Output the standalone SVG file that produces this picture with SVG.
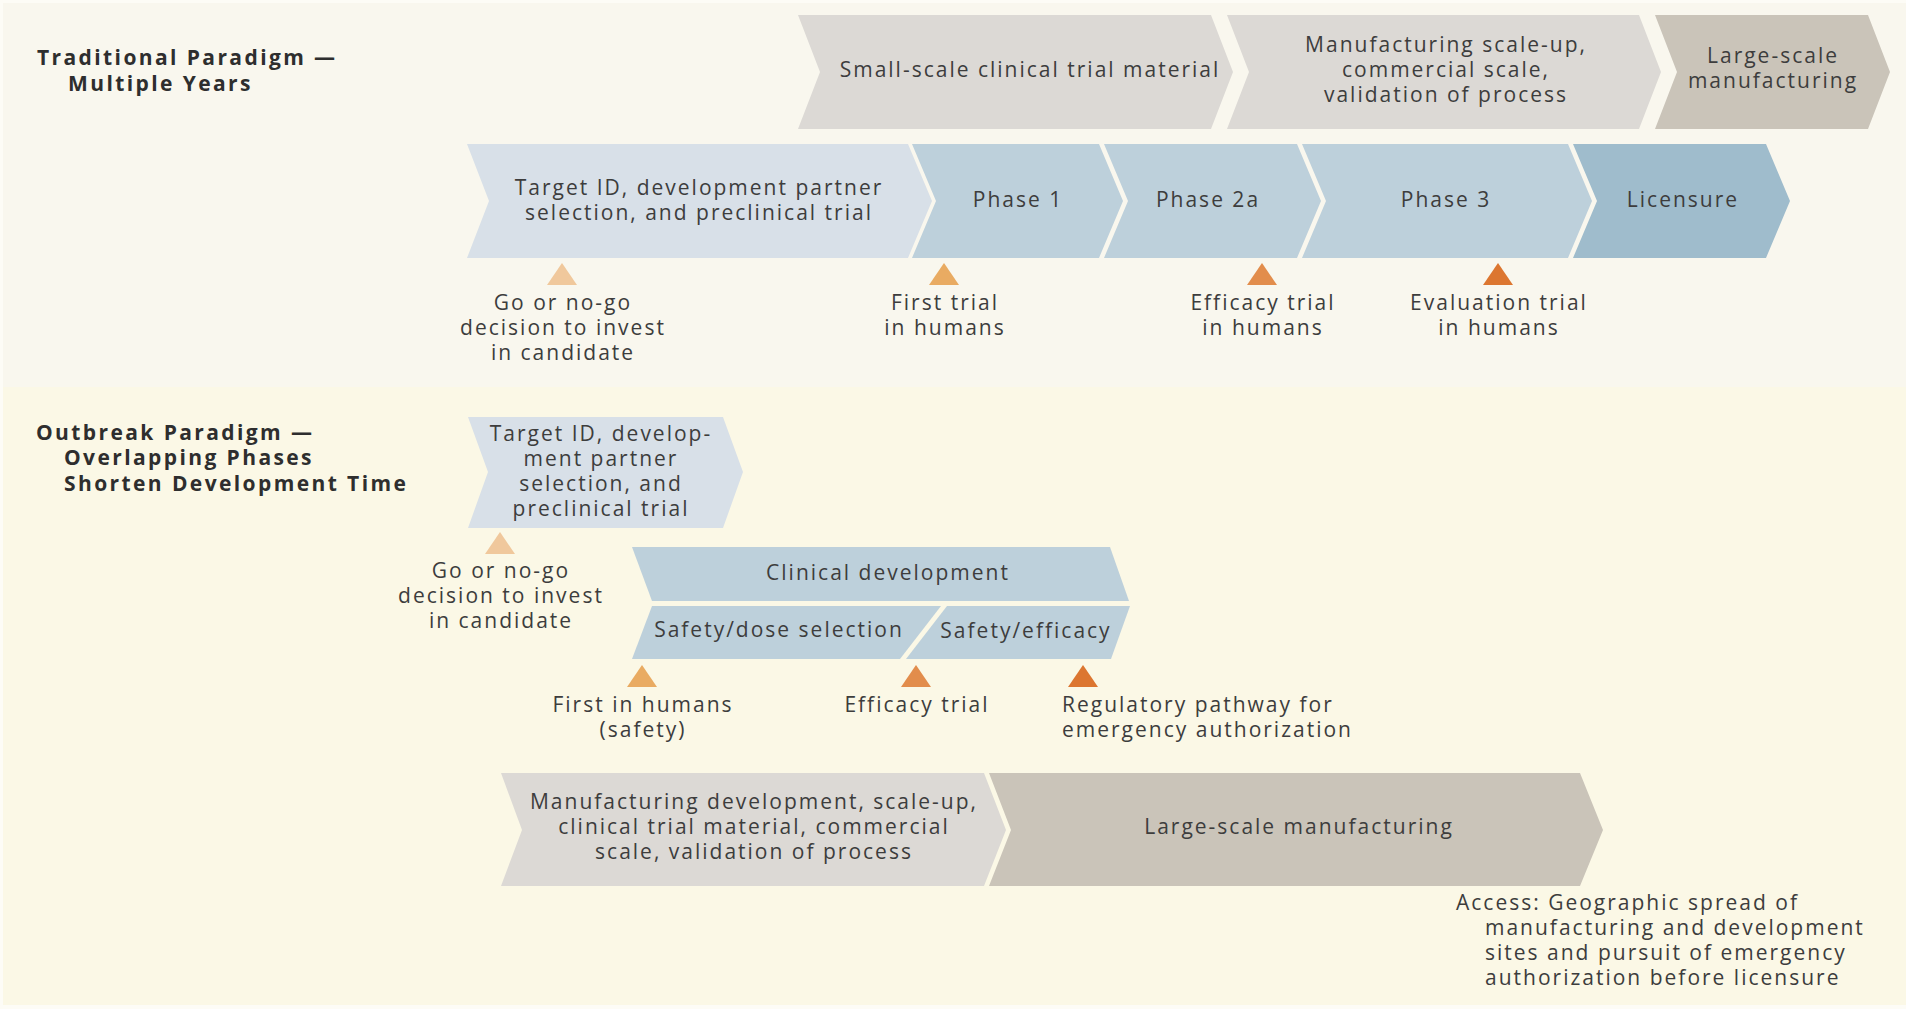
<svg xmlns="http://www.w3.org/2000/svg" width="1906" height="1009" viewBox="0 0 1906 1009">
  <style>
    text { font-family: "Open Sans", "Noto Sans", "DejaVu Sans", sans-serif; fill: #3d3d3d; font-size: 21px; letter-spacing: 2px; }
    .c { text-anchor: middle; }
    .title { font-weight: 700; font-size: 21px; letter-spacing: 2.4px; fill: #2e2e2e; }
    .gray { fill: #dcd9d5; }
    .tan { fill: #cac4b9; }
    .pale { fill: #d8e0e8; }
    .blue { fill: #bdd0db; }
    .dark { fill: #9fbccc; }
    .t1 { fill: #f0c89c; }
    .t2 { fill: #e9ab62; }
    .t3 { fill: #e28d4c; }
    .t4 { fill: #dc7630; }
  </style>

  <!-- backgrounds of the two panels -->
  <rect x="0" y="0" width="1906" height="1009" fill="#fdfcf6"/>
  <rect x="3" y="3" width="1903" height="384" fill="#f9f7ee"/>
  <rect x="3" y="387" width="1903" height="618" fill="#fbf8e6"/>

  <!-- ===== Traditional paradigm ===== -->
  <g id="title-traditional">
    <text class="title" x="37" y="65">Traditional Paradigm —</text>
    <text class="title" x="68" y="91">Multiple Years</text>
  </g>

  <!-- manufacturing row -->
  <g id="small-scale-material">
    <polygon class="gray" points="798,15 1211,15 1233,72 1211,129 798,129 820,72"/>
    <text class="c" x="1030" y="77">Small-scale clinical trial material</text>
  </g>
  <g id="manufacturing-scale-up">
    <polygon class="gray" points="1227,15 1639,15 1661,72 1639,129 1227,129 1249,72"/>
    <text class="c" x="1446" y="52">Manufacturing scale-up,</text>
    <text class="c" x="1446" y="77">commercial scale,</text>
    <text class="c" x="1446" y="102">validation of process</text>
  </g>
  <g id="large-scale-traditional">
    <polygon class="tan" points="1655,15 1868,15 1890,72 1868,129 1655,129 1677,72"/>
    <text class="c" x="1773" y="63">Large-scale</text>
    <text class="c" x="1773" y="88">manufacturing</text>
  </g>

  <!-- development row -->
  <g id="target-id-traditional">
    <polygon class="pale" points="467,144 908,144 932,201 908,258 467,258 489,201"/>
    <text class="c" x="699" y="195">Target ID, development partner</text>
    <text class="c" x="699" y="220">selection, and preclinical trial</text>
  </g>
  <g id="phase-1">
    <polygon class="blue" points="912,144 1099,144 1123,201 1099,258 912,258 936,201"/>
    <text class="c" x="1018" y="207">Phase 1</text>
  </g>
  <g id="phase-2a">
    <polygon class="blue" points="1104,144 1297,144 1321,201 1297,258 1104,258 1128,201"/>
    <text class="c" x="1208" y="207">Phase 2a</text>
  </g>
  <g id="phase-3">
    <polygon class="blue" points="1302,144 1568,144 1592,201 1568,258 1302,258 1326,201"/>
    <text class="c" x="1446" y="207">Phase 3</text>
  </g>
  <g id="licensure">
    <polygon class="dark" points="1573,144 1766,144 1790,201 1766,258 1573,258 1597,201"/>
    <text class="c" x="1683" y="207">Licensure</text>
  </g>

  <!-- milestones -->
  <g id="go-no-go-traditional">
    <polygon class="t1" points="562,263 577,285 547,285"/>
    <text class="c" x="563" y="310">Go or no-go</text>
    <text class="c" x="563" y="335">decision to invest</text>
    <text class="c" x="563" y="360">in candidate</text>
  </g>
  <g id="first-trial">
    <polygon class="t2" points="944,263 959,285 929,285"/>
    <text class="c" x="945" y="310">First trial</text>
    <text class="c" x="945" y="335">in humans</text>
  </g>
  <g id="efficacy-trial-traditional">
    <polygon class="t3" points="1262,263 1277,285 1247,285"/>
    <text class="c" x="1263" y="310">Efficacy trial</text>
    <text class="c" x="1263" y="335">in humans</text>
  </g>
  <g id="evaluation-trial">
    <polygon class="t4" points="1498,263 1513,285 1483,285"/>
    <text class="c" x="1499" y="310">Evaluation trial</text>
    <text class="c" x="1499" y="335">in humans</text>
  </g>

  <!-- ===== Outbreak paradigm ===== -->
  <g id="title-outbreak">
    <text class="title" x="36" y="440">Outbreak Paradigm —</text>
    <text class="title" x="64" y="465">Overlapping Phases</text>
    <text class="title" x="64" y="491">Shorten Development Time</text>
  </g>

  <g id="target-id-outbreak">
    <polygon class="pale" points="468,417 723,417 743,472 723,528 468,528 488,472"/>
    <text class="c" x="601" y="441">Target ID, develop-</text>
    <text class="c" x="601" y="466">ment partner</text>
    <text class="c" x="601" y="491">selection, and</text>
    <text class="c" x="601" y="516">preclinical trial</text>
  </g>
  <g id="go-no-go-outbreak">
    <polygon class="t1" points="500,532 515,554 485,554"/>
    <text class="c" x="501" y="578">Go or no-go</text>
    <text class="c" x="501" y="603">decision to invest</text>
    <text class="c" x="501" y="628">in candidate</text>
  </g>

  <g id="clinical-development">
    <polygon class="blue" points="632,547 1110,547 1129,601 652,601"/>
    <text class="c" x="888" y="580">Clinical development</text>
  </g>
  <g id="safety-dose-selection">
    <polygon class="blue" points="652,606 941,606 900,659 632,659"/>
    <text class="c" x="779" y="637">Safety/dose selection</text>
  </g>
  <g id="safety-efficacy">
    <polygon class="blue" points="947,606 1130,606 1111,659 906,659"/>
    <text class="c" x="1026" y="638">Safety/efficacy</text>
  </g>

  <g id="first-in-humans">
    <polygon class="t2" points="642,665 657,687 627,687"/>
    <text class="c" x="643" y="712">First in humans</text>
    <text class="c" x="643" y="737">(safety)</text>
  </g>
  <g id="efficacy-trial-outbreak">
    <polygon class="t3" points="916,665 931,687 901,687"/>
    <text class="c" x="917" y="712">Efficacy trial</text>
  </g>
  <g id="regulatory-pathway">
    <polygon class="t4" points="1083,665 1098,687 1068,687"/>
    <text x="1062" y="712">Regulatory pathway for</text>
    <text x="1062" y="737">emergency authorization</text>
  </g>

  <g id="manufacturing-development">
    <polygon class="gray" points="501,773 984,773 1006,830 984,886 501,886 522,830"/>
    <text class="c" x="754" y="809">Manufacturing development, scale-up,</text>
    <text class="c" x="754" y="834">clinical trial material, commercial</text>
    <text class="c" x="754" y="859">scale, validation of process</text>
  </g>
  <g id="large-scale-outbreak">
    <polygon class="tan" points="989,773 1580,773 1603,830 1580,886 989,886 1011,830"/>
    <text class="c" x="1299" y="834">Large-scale manufacturing</text>
  </g>

  <g id="access-note">
    <text x="1456" y="910">Access: Geographic spread of</text>
    <text x="1485" y="935">manufacturing and development</text>
    <text x="1485" y="960">sites and pursuit of emergency</text>
    <text x="1485" y="985">authorization before licensure</text>
  </g>

  <!-- no connectors: phases abut as chevrons -->
  <g id="connectors"/>
</svg>
